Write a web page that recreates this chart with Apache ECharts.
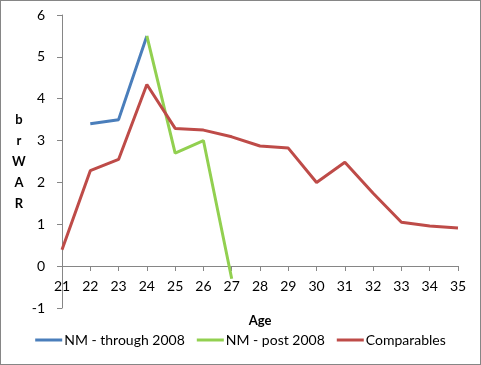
<!DOCTYPE html>
<html><head><meta charset="utf-8">
<script src="https://cdn.jsdelivr.net/npm/echarts@6/dist/echarts.min.js"></script>
<style>
html,body{margin:0;padding:0;background:#fff;}
#c{width:479px;height:363px;border:1px solid #868686;}
</style></head>
<body><div id="c"></div>
<script>
const ages = ['21','22','23','24','25','26','27','28','29','30','31','32','33','34','35'];
const nmThrough2008 = [null, 3.4, 3.5, 5.5, null, null, null, null, null, null, null, null, null, null, null];
const nmPost2008 = [null, null, null, 5.5, 2.7, 3.0, -0.3, null, null, null, null, null, null, null, null];
const comparables = [0.39, 2.28, 2.55, 4.34, 3.29, 3.25, 3.09, 2.87, 2.82, 2.0, 2.48, 1.74, 1.05, 0.96, 0.91];
const seriesNames = ['NM - through 2008', 'NM - post 2008', 'Comparables'];
const colors = ['#4A7EBB', '#92D050', '#BE4B48'];

const font = 'Lato, "Open Sans", sans-serif';
const chart = echarts.init(document.getElementById('c'));
const mk = (name, data, color) => ({
  name, type: 'line', data, symbol: 'none', connectNulls: false,
  lineStyle: {width: 3, color}, itemStyle: {color}
});
chart.setOption({
  animation: false,
  textStyle: {fontFamily: font},
  grid: {left: 61, right: 22, top: 14, bottom: 56, containLabel: false, outerBoundsMode: 'none'},
  legend: {
    bottom: 12, left: 'center', icon: 'rect', itemWidth: 27, itemHeight: 3, itemGap: 12,
    textStyle: {fontSize: 14, color: '#000', fontFamily: font, padding: [0,0,0,-3]},
    data: seriesNames
  },
  xAxis: {
    type: 'category', data: ages, boundaryGap: false, offset: -42,
    name: 'Age', nameLocation: 'middle', nameGap: 48,
    nameTextStyle: {fontWeight: 'bold', fontSize: 13, color: '#000'},
    axisLine: {show: true, onZero: false, lineStyle: {color: '#868686'}},
    axisTick: {show: true, length: 5, lineStyle: {color: '#868686'}},
    axisLabel: {fontSize: 14, color: '#000', margin: 13, interval: 0}
  },
  yAxis: {
    type: 'value', min: -1, max: 6, interval: 1,
    name: 'b\nr\nW\nA\nR', nameLocation: 'middle', nameGap: 42, nameRotate: 0,
    nameTextStyle: {fontWeight: 'bold', fontSize: 13, color: '#000', lineHeight: 21, align: 'center', padding: [12, 0, 0, 0]},
    axisLine: {show: true, lineStyle: {color: '#868686'}},
    axisTick: {show: true, length: 5, lineStyle: {color: '#868686'}},
    axisLabel: {fontSize: 14, color: '#000', margin: 17},
    splitLine: {show: false}
  },
  series: [
    mk(seriesNames[0], nmThrough2008, colors[0]),
    mk(seriesNames[1], nmPost2008, colors[1]),
    mk(seriesNames[2], comparables, colors[2])
  ]
});
</script></body></html>
